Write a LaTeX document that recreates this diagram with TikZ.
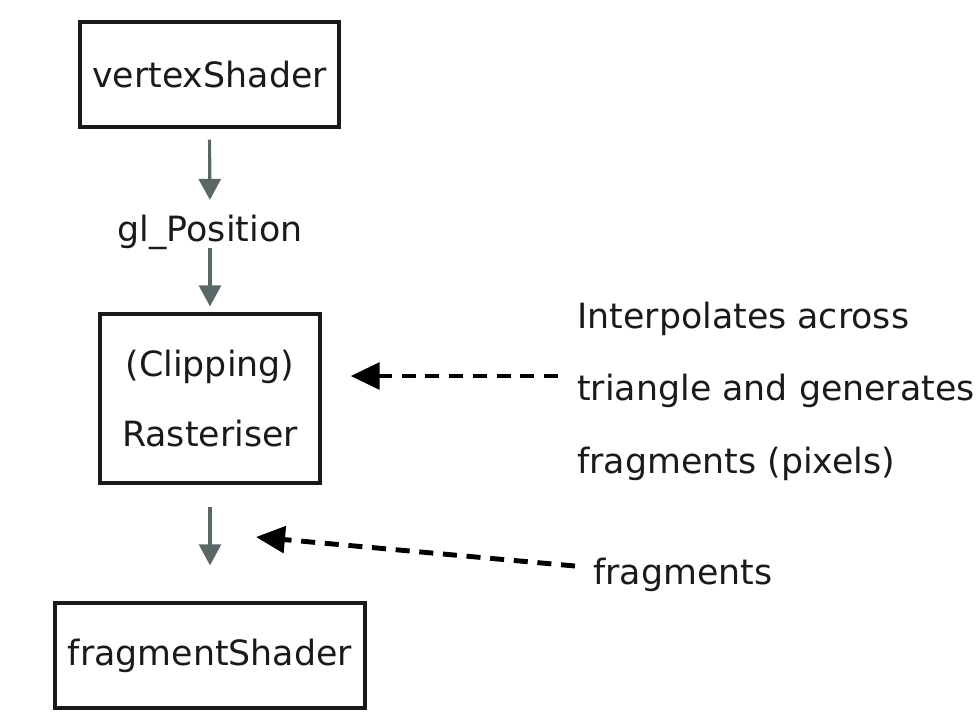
\documentclass[tikz,border=0pt]{standalone}
\usepackage{fontspec}
\setmainfont{DejaVu Sans}
\usetikzlibrary{arrows.meta}
\definecolor{arrowgray}{HTML}{5B6666}
\definecolor{ink}{HTML}{1A1A1A}
\begin{document}
\begin{tikzpicture}[x=0.02cm,y=-0.02cm,
  every node/.style={font=\fontsize{19.8}{39.8}\selectfont, text=ink},
  stage/.style={draw=ink, line width=1.9pt, inner sep=0pt, align=center},
  flow/.style={draw=arrowgray, line width=1.8pt,
    -{Triangle[length=12pt,width=12.5pt]}},
  hint/.style={draw=black, line width=2.8pt, dash pattern=on 8pt off 5.5pt,
    -{Triangle[length=16.5pt,width=15pt]}},
  note/.style={anchor=base west, inner sep=0pt}
]
\useasboundingbox (0,0) rectangle (980,725);

% pipeline stages
\node[stage, minimum width=5.18cm, minimum height=2.1cm] (vs) at (209.5,74.5) {vertexShader};
\node[inner sep=0pt, text height=14pt, text depth=5pt] (gl) at (210,234) {gl\_Position};
\node[stage, minimum width=4.4cm, minimum height=3.38cm] (ras) at (210,398.5) {(Clipping)\\Rasteriser};
\node[stage, minimum width=6.2cm, minimum height=2.1cm] (fs) at (210,655.5) {fragmentShader};

% flow between stages
\draw[flow, shorten <=6.3pt, shorten >=9.7pt] (vs.south) -- (gl.north);
\draw[flow, shorten <=-1.6pt, shorten >=3.4pt] (gl.south) -- (ras.north);
\draw[flow, shorten <=12.5pt, shorten >=20.5pt] (ras.south) -- (fs.north);

% annotations
\node[note] (i1) at (577,328) {Interpolates across};
\node[note] (i2) at (577,400) {triangle and generates};
\node[note] (i3) at (577,473) {fragments (pixels)};
\node[note] (fr) at (593,584) {fragments};

\coordinate (d1) at (558,376);
\coordinate (d2) at (575,566);
\coordinate (t2) at (256,537);
\draw[hint, shorten >=16.5pt] (d1) -- (ras.east |- d1);
\draw[hint] (d2) -- (t2);
\end{tikzpicture}
\end{document}
